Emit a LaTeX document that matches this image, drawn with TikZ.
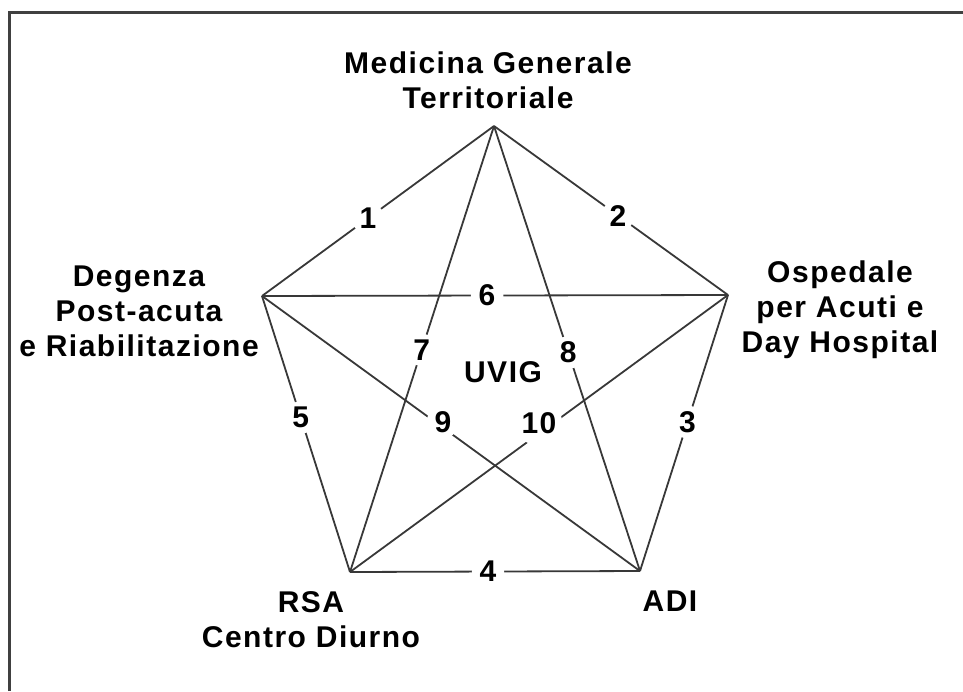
\documentclass[tikz,border=0pt]{standalone}
\usepackage{fontspec}
\setmainfont{Liberation Sans}[LetterSpace=5]
\begin{document}
\begin{tikzpicture}[x=1pt, y=-1pt,
    link/.style={draw=black!78, line width=1.8pt},
    num/.style={circle, fill=white, inner sep=2pt, font=\fontsize{30}{35}\selectfont\bfseries},
    place/.style={align=center, font=\fontsize{30}{35}\selectfont\bfseries}]
    \useasboundingbox (0,0) rectangle (963,691);
    % Frame
    \draw[black!75, line width=3pt] (9,691) -- (9,12) -- (963,12);

    % Nodes
    \coordinate (mg) at (494,126);
    \coordinate (dp) at (262,296);
    \coordinate (os) at (728,295);
    \coordinate (rsa) at (350,572);
    \coordinate (adi) at (640,571);

    \node[place] (mgt) at (488,80) {Medicina Generale\\Territoriale};
    \node[place] (dpt) at (139,311) {Degenza\\Post-acuta\\e Riabilitazione};
    \node[place] (ost) at (840,310) {Ospedale\\per Acuti e\\Day Hospital};
    \node[place] (rsat) at (311,620) {RSA\\Centro Diurno};
    \node[place] (adit) at (670,601) {ADI};
    \node[place] (uvig) at (503,372) {UVIG};

    % Edges
    \draw[link] (dp)--(mg) node[num, pos=0.457] {1};
    \draw[link] (mg)--(os) node[num, pos=0.53] {2};
    \draw[link] (os)--(adi) node[num, pos=0.46] {3};
    \draw[link] (rsa)--(adi) node[num, pos=0.476] {4};
    \draw[link] (dp)--(rsa) node[num, pos=0.44] {5};
    \draw[link] (dp)--(os) node[num, pos=0.483] {6};
    \draw[link] (mg)--(rsa) node[num, pos=0.502] {7};
    \draw[link] (mg)--(adi) node[num, pos=0.509] {8};
    \draw[link] (dp)--(adi) node[num, pos=0.479, yshift=6pt] {9};
    \draw[link] (os)--(rsa) node[num, pos=0.479, xshift=-8pt, yshift=5pt] {10};
\end{tikzpicture}
\end{document}
